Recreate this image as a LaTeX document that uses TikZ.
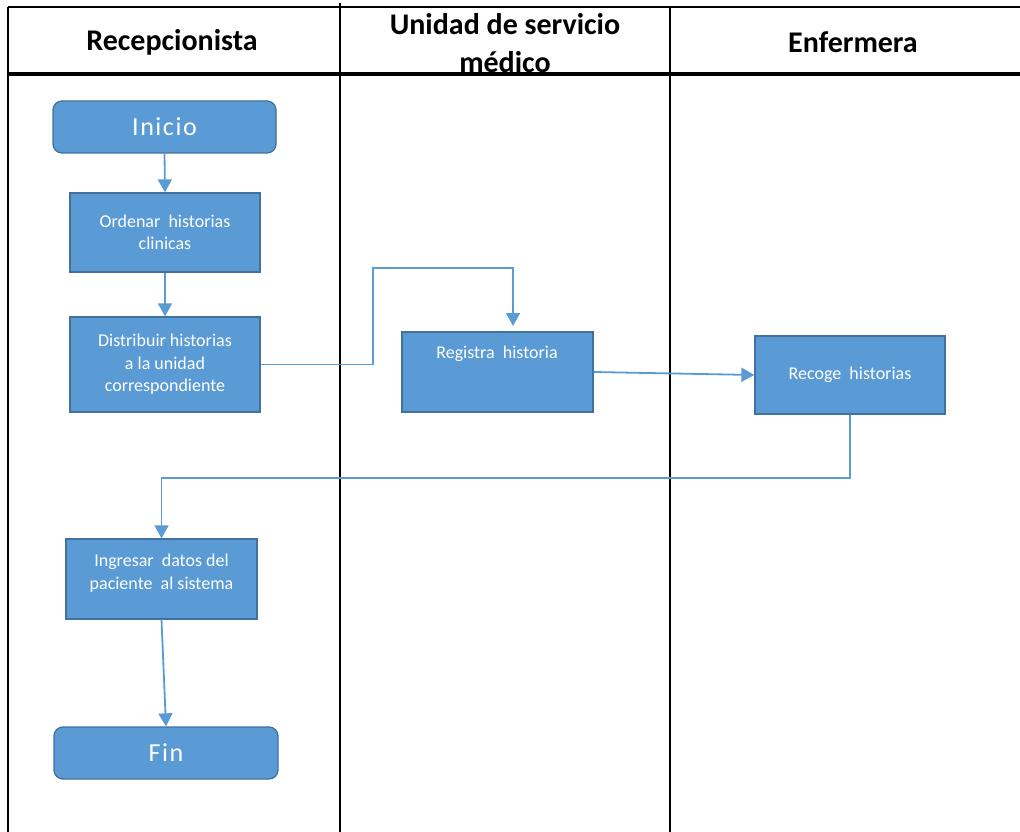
\documentclass[tikz,border=0pt]{standalone}
\usepackage{fontspec}
\setmainfont{Carlito}
\newfontfamily\spacedfont[LetterSpace=6]{Carlito}
\usetikzlibrary{arrows.meta}
\definecolor{boxfill}{HTML}{5B9BD5}
\definecolor{boxline}{HTML}{41719C}
\begin{document}
\begin{tikzpicture}[x=1pt,y=-1pt,
 proc/.style={draw=boxline, line width=1.3pt, fill=boxfill, text=white, font=\fontsize{18}{22.5}\selectfont, align=center, inner sep=0pt},
 term/.style={proc, rounded corners=9pt, font=\spacedfont\fontsize{26}{30}\selectfont},
 txt/.style={text=white, font=\fontsize{18}{22.5}\selectfont, align=center, inner sep=0pt},
 flow/.style={draw=boxfill, line width=1.8pt, -{Triangle[length=13pt,width=14pt]}},
 head/.style={font=\bfseries\fontsize{30}{38}\selectfont, align=center, inner sep=0pt},
 lane/.style={line width=1.6pt, draw=black}]
\useasboundingbox (0,0) rectangle (1020,832);
\fill[white] (0,0) rectangle (1020,832);
% table
\draw[lane] (8,7) -- (1020,7);
\draw[lane] (8,7) -- (8,832);
\draw[lane] (340,3) -- (340,832);
\draw[lane] (670,7) -- (670,832);
\draw[line width=3.5pt] (8,74) -- (1020,74);
% headers
\node[head] (h1) at (172,42) {Recepcionista};
\node[head] (h2) at (505,43) {Unidad de servicio\\médico};
\node[head] (h3) at (853,42) {Enfermera};
% nodes
\node[term, minimum width=223pt, minimum height=52pt] (ini) at (164.5,127) {Inicio};
\node[proc, minimum width=190pt, minimum height=79pt] (ord) at (165,232.5) {Ordenar\ \ historias\\clinicas};
\node[proc, minimum width=190pt, minimum height=95pt] (dist) at (165,364.5) {Distribuir historias\\a la unidad\\correspondiente};
\node[proc, minimum width=191pt, minimum height=80pt] (reg) at (497.5,372) {};
\node[txt] (regt) at (497,354) {Registra\ \ historia};
\node[proc, minimum width=190pt, minimum height=78pt] (rec) at (850,375) {Recoge\ \ historias};
\node[proc, minimum width=191pt, minimum height=80pt] (ing) at (161.5,579) {};
\node[txt] (ingt) at (161.5,573) {Ingresar\ \ datos del\\paciente\ \ al sistema};
\node[term, minimum width=224pt, minimum height=52pt] (fin) at (166,753) {Fin};
% connectors
\coordinate (regin) at (513,326);
\draw[flow] (ini.south) -- (ord.north);
\draw[flow] (ord.south) -- (dist.north);
\draw[flow] (dist.east) -- (373,364.5) -- (373,268) -- (513,268) -- (regin);
\draw[flow] (reg.east) -- (rec.west);
\draw[flow] (rec.south) -- ++(0,63) -| (ing.north);
\draw[flow] (ing.south) -- (fin.north);
\end{tikzpicture}
\end{document}
